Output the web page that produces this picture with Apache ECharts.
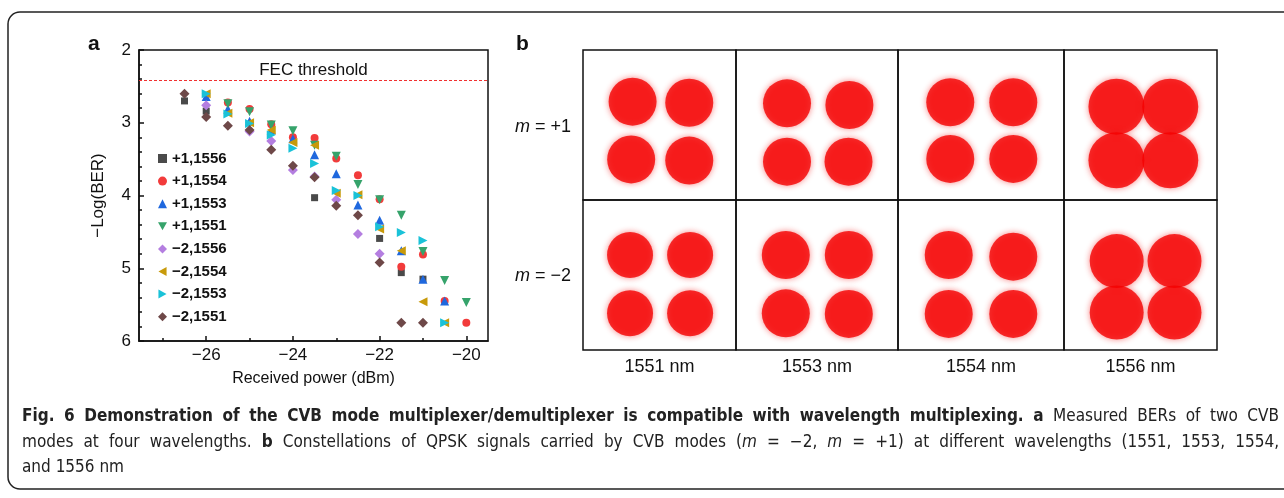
<!DOCTYPE html>
<html>
<head>
<meta charset="utf-8">
<script src="https://cdn.jsdelivr.net/npm/echarts@6/dist/echarts.min.js"></script>
<style>
  html, body { margin: 0; padding: 0; background: #fff; }
  #chart { width: 1284px; height: 498px; }
</style>
</head>
<body>
<div id="chart"></div>
<script>
// ---- panel a : BER vs received power ----
const powerMajor = [-26, -24, -22, -20];
const powerMinor = [-27, -25, -23, -21];
const fecThreshold = 2.42;

const p1_1556 = [[-26.5, 2.70], [-26, 2.84], [-23.5, 4.03], [-22, 4.59], [-21.5, 5.06], [-21, 5.15]];
const p1_1554 = [[-25.5, 2.72], [-25, 2.81], [-24.5, 3.02], [-24, 3.20], [-23.5, 3.21], [-23, 3.49], [-22.5, 3.72], [-22, 4.05], [-21.5, 4.98], [-21, 4.81], [-20.5, 5.45], [-20, 5.75]];
const p1_1553 = [[-26, 2.64], [-25.5, 2.81], [-25, 2.98], [-24.5, 3.10], [-24, 3.22], [-23.5, 3.44], [-23, 3.70], [-22.5, 4.13], [-22, 4.34], [-21.5, 4.76], [-21, 5.15], [-20.5, 5.45]];
const p1_1551 = [[-25.5, 2.74], [-25, 2.85], [-24.5, 3.03], [-24, 3.11], [-23.5, 3.31], [-23, 3.46], [-22.5, 3.85], [-22, 4.06], [-21.5, 4.27], [-21, 4.77], [-20.5, 5.17], [-20, 5.47]];
const m2_1556 = [[-26, 2.76], [-25, 3.12], [-24.5, 3.25], [-24, 3.65], [-23.5, 3.74], [-23, 4.06], [-22.5, 4.53], [-22, 4.80]];
const m2_1554 = [[-26, 2.60], [-25.5, 2.87], [-25, 3.00], [-24.5, 3.10], [-24, 3.27], [-23.5, 3.31], [-23, 3.97], [-22.5, 3.99], [-22, 4.46], [-21.5, 4.76], [-21, 5.46], [-20.5, 5.75]];
const m2_1553 = [[-26, 2.60], [-25.5, 2.88], [-25, 3.01], [-24.5, 3.17], [-24, 3.35], [-23.5, 3.56], [-23, 3.93], [-22.5, 4.00], [-22, 4.43], [-21.5, 4.51], [-21, 4.62], [-20.5, 5.75]];
const m2_1551 = [[-26.5, 2.60], [-26, 2.92], [-25.5, 3.04], [-25, 3.10], [-24.5, 3.37], [-24, 3.59], [-23.5, 3.75], [-23, 4.14], [-22.5, 4.27], [-22, 4.92], [-21.5, 5.75], [-21, 5.75]];

// ---- panel b : QPSK constellation centres (I, Q) per wavelength ----
const wavelengths = ['1551 nm', '1553 nm', '1554 nm', '1556 nm'];
const constPlus1 = [
  [[-0.95, 0.84], [1.05, 0.80], [-1.0, -1.24], [1.05, -1.28]],
  [[-1.0, 0.78], [1.08, 0.72], [-1.0, -1.32], [1.05, -1.32]],
  [[-1.0, 0.82], [1.05, 0.82], [-1.0, -1.22], [1.05, -1.22]],
  [[-0.85, 0.66], [1.05, 0.66], [-0.85, -1.27], [1.05, -1.27]]
];
const constMinus2 = [
  [[-1.04, 0.72], [1.08, 0.72], [-1.04, -1.38], [1.08, -1.38]],
  [[-1.04, 0.72], [1.06, 0.72], [-1.04, -1.38], [1.06, -1.40]],
  [[-1.05, 0.72], [1.05, 0.66], [-1.05, -1.40], [1.05, -1.40]],
  [[-0.84, 0.50], [1.20, 0.50], [-0.84, -1.35], [1.20, -1.35]]
];

const FONT = '"Liberation Sans", Arial, sans-serif';
const INK = '#111';
const TRI_DOWN = 'path://M0,0 L10,0 L5,9 Z';
const TRI_LEFT = 'path://M9,0 L9,10 L0,5 Z';
const TRI_RIGHT = 'path://M0,0 L0,10 L9,5 Z';

var chart = echarts.init(document.getElementById('chart'));

const berDefs = [
  { name: '+1,1556', data: p1_1556, symbol: 'rect', symbolSize: 7, color: '#4a4a4a' },
  { name: '+1,1554', data: p1_1554, symbol: 'circle', symbolSize: 8, color: '#f23b3b' },
  { name: '+1,1553', data: p1_1553, symbol: 'triangle', symbolSize: 9, color: '#1f68de' },
  { name: '+1,1551', data: p1_1551, symbol: TRI_DOWN, symbolSize: 9, color: '#36a36b' },
  { name: '−2,1556', data: m2_1556, symbol: 'diamond', symbolSize: 10, color: '#b47ee0' },
  { name: '−2,1554', data: m2_1554, symbol: TRI_LEFT, symbolSize: 9, color: '#c89a0a' },
  { name: '−2,1553', data: m2_1553, symbol: TRI_RIGHT, symbolSize: 9, color: '#1ac2d8' },
  { name: '−2,1551', data: m2_1551, symbol: 'diamond', symbolSize: 10, color: '#6e4848' }
];
const berSeries = berDefs.map((s) => ({
  type: 'scatter',
  name: s.name,
  xAxisIndex: 0,
  yAxisIndex: 0,
  data: s.data,
  symbol: s.symbol,
  symbolSize: s.symbolSize,
  itemStyle: { color: s.color, opacity: 1 },
  emphasis: { disabled: true }
}));

berSeries[0].markLine = {
  silent: true,
  symbol: 'none',
  lineStyle: { color: '#f03030', type: [3, 2], width: 1 },
  label: {
    show: true, formatter: 'FEC threshold', position: 'insideMiddleTop',
    color: INK, fontSize: 17, fontFamily: FONT, distance: 2
  },
  data: [{ yAxis: fecThreshold }]
};

// constellation grid cells (box edges)
const cellX = [583, 736, 898, 1064, 1217];
const cellY = [50, 200, 350];

const grids = [{ left: 139, top: 50, width: 349, height: 291, show: true, borderColor: INK, borderWidth: 1.5 }];
const xAxes = [
  {
    gridIndex: 0, type: 'value', min: -27.55, max: -19.5,
    axisLine: { lineStyle: { color: INK, width: 1.5 } },
    axisTick: { inside: true, length: 5, customValues: powerMajor, lineStyle: { color: INK, width: 1.5 } },
    axisLabel: {
      customValues: powerMajor, color: INK, fontSize: 17, fontFamily: FONT, margin: 6,
      formatter: (v) => (v < 0 ? '−' : '') + Math.abs(v)
    },
    splitLine: { show: false },
    name: 'Received power (dBm)', nameLocation: 'middle', nameGap: 30,
    nameTextStyle: { color: INK, fontSize: 16, fontFamily: FONT }
  },
  {
    gridIndex: 0, type: 'value', min: -27.55, max: -19.5, position: 'bottom',
    axisLine: { show: false },
    axisTick: { inside: true, length: 3, customValues: powerMinor, lineStyle: { color: INK, width: 1.5 } },
    axisLabel: { show: false },
    splitLine: { show: false }
  }
];
const yAxes = [
  {
    gridIndex: 0, type: 'value', inverse: true, min: 2, max: 6, interval: 1,
    axisLine: { show: true, lineStyle: { color: INK, width: 1.5 } },
    axisTick: { show: true, inside: true, length: 5, lineStyle: { color: INK, width: 1.5 } },
    minorTick: { show: true, splitNumber: 5, length: 3, lineStyle: { color: INK, width: 1.5 } },
    axisLabel: { color: INK, fontSize: 17, fontFamily: FONT, margin: 8 },
    splitLine: { show: false },
    name: '−Log(BER)', nameLocation: 'middle', nameGap: 32, nameRotate: 90,
    nameTextStyle: { color: INK, fontSize: 17, fontFamily: FONT }
  }
];

const constSeries = [];
const blobSize = [[48, 48, 48, 56], [46, 48, 48, 54]];
[constPlus1, constMinus2].forEach((row, r) => {
  row.forEach((pts, c) => {
    const gi = grids.length;
    grids.push({
      left: cellX[c], top: cellY[r], width: cellX[c + 1] - cellX[c], height: cellY[r + 1] - cellY[r],
      show: true, borderColor: INK, borderWidth: 1.5
    });
    const xi = xAxes.length, yi = yAxes.length;
    xAxes.push({ gridIndex: gi, type: 'value', min: -2.7, max: 2.7, show: false });
    yAxes.push({ gridIndex: gi, type: 'value', min: -2.7, max: 2.7, show: false });
    constSeries.push({
      type: 'scatter',
      xAxisIndex: xi, yAxisIndex: yi,
      data: pts,
      symbol: 'circle',
      symbolSize: blobSize[r][c],
      itemStyle: { color: '#f50000', shadowBlur: 6, shadowColor: 'rgba(240,0,0,0.6)' },
      silent: true
    });
  });
});

// ---- caption, justified word by word ----
const CAP_FONT = '"Liberation Sans Narrow", "DejaVu Sans Condensed", "Liberation Sans", sans-serif';
const CAP_SIZE = 17;
const captionLines = [
  [['Fig. 6 Demonstration of the CVB mode multiplexer/demultiplexer is compatible with wavelength multiplexing. a', 'b'], [' Measured BERs of two CVB', 'r']],
  [['modes at four wavelengths. ', 'r'], ['b', 'b'], [' Constellations of QPSK signals carried by CVB modes (', 'r'], ['m', 'i'], [' = −2, ', 'r'], ['m', 'i'], [' = +1) at different wavelengths (1551, 1553, 1554,', 'r']],
  [['and 1556 nm', 'r']]
];
const ctx = document.createElement('canvas').getContext('2d');
function capFont(st) {
  return (st === 'b' ? 'bold ' : st === 'i' ? 'italic ' : '') + CAP_SIZE + 'px ' + CAP_FONT;
}
function measure(t, st) { ctx.font = capFont(st); return ctx.measureText(t).width; }

const captionEls = [];
captionLines.forEach((line, li) => {
  const words = [[]];
  line.forEach(([t, st]) => {
    t.split(' ').forEach((part, k) => {
      if (k > 0) words.push([]);
      if (part) words[words.length - 1].push([part, st]);
    });
  });
  const ws = words.filter((w) => w.length);
  const widths = ws.map((w) => w.reduce((a, [t, st]) => a + measure(t, st), 0));
  const total = widths.reduce((a, b) => a + b, 0);
  const x0 = 22, x1 = 1279;
  const last = li === captionLines.length - 1;
  const gap = last ? measure(' ', 'r') : (x1 - x0 - total) / (ws.length - 1);
  let x = x0;
  const y = 417 + li * 25.5;
  ws.forEach((w) => {
    w.forEach(([t, st]) => {
      captionEls.push({
        type: 'text', x: x, y: y, silent: true,
        style: { text: t, font: capFont(st), fill: '#222', verticalAlign: 'middle' }
      });
      x += measure(t, st);
    });
    x += gap;
  });
});

const option = {
  animation: false,
  backgroundColor: '#fff',
  grid: grids,
  xAxis: xAxes,
  yAxis: yAxes,
  legend: {
    data: berDefs.map((s) => ({ name: s.name, icon: s.symbol })),
    orient: 'vertical', left: 153, top: 146,
    itemWidth: 9, itemHeight: 9, itemGap: 7.6,
    textStyle: { color: INK, fontSize: 15, fontWeight: 'bold', fontFamily: FONT, lineHeight: 15 },
    selectedMode: false
  },
  series: berSeries.concat(constSeries),
  graphic: [
    { type: 'rect', shape: { x: 8, y: 12, width: 1300, height: 477, r: 12 }, style: { fill: 'none', stroke: '#222', lineWidth: 1.5 }, silent: true },
    { type: 'text', x: 88, y: 44, style: { text: 'a', font: 'bold 21px ' + FONT, fill: INK, verticalAlign: 'middle' } },
    { type: 'text', x: 516, y: 44, style: { text: 'b', font: 'bold 21px ' + FONT, fill: INK, verticalAlign: 'middle' } },
    { type: 'text', x: 515, y: 127, style: { text: '{i|m} = +1', rich: { i: { fontStyle: 'italic', fontSize: 18, fontFamily: FONT } }, fontSize: 18, fontFamily: FONT, fill: INK, verticalAlign: 'middle' } },
    { type: 'text', x: 515, y: 276, style: { text: '{i|m} = −2', rich: { i: { fontStyle: 'italic', fontSize: 18, fontFamily: FONT } }, fontSize: 18, fontFamily: FONT, fill: INK, verticalAlign: 'middle' } }
  ].concat(wavelengths.map((w, i) => ({
    type: 'text', x: (cellX[i] + cellX[i + 1]) / 2, y: 367,
    style: { text: w, fontSize: 18, fontFamily: FONT, fill: INK, align: 'center', verticalAlign: 'middle' }
  }))).concat(captionEls)
};

chart.setOption(option);
</script>
</body>
</html>
